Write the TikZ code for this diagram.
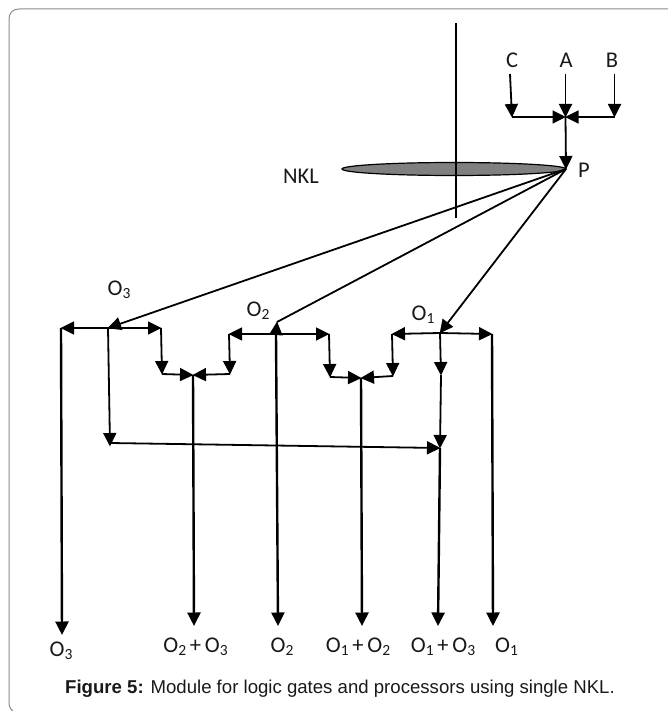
\documentclass[tikz,border=0pt]{standalone}
\usepackage{fontspec}
\setmainfont{Carlito}
\newfontfamily\capfont{Liberation Sans}
\usetikzlibrary{arrows.meta,shapes.geometric}
\newcommand{\lowsub}[1]{\raisebox{-0.3ex}{\fontsize{15.5}{15.5}\selectfont #1}}
\tikzset{
  x=1pt,y=-1pt,
  lab/.style={inner sep=0pt,font=\fontsize{22.5}{22.5}\selectfont,text=black!90},
  arr/.style={line width=1.8pt,draw=black,-{Triangle[length=13.5pt,width=13pt]},shorten >=-0.5pt},
  thickarr/.style={line width=2.4pt,draw=black,-{Triangle[length=13.5pt,width=13pt]}},
  plainline/.style={line width=1.8pt,draw=black},
}
\begin{document}
\begin{tikzpicture}
\useasboundingbox (0,0) rectangle (668,711);
% frame
\draw[line width=1pt,draw=black!45] (668,9) -- (19,9) .. controls (13,9) and (9,13) .. (9,19) -- (9,702) .. controls (9,706) and (10,709) .. (13,711);
% junctions
\coordinate (cTop) at (510,74);
\coordinate (aTop) at (565.5,74);
\coordinate (bTop) at (614.5,74);
\coordinate (cJ) at (512,117);
\coordinate (hub) at (565.5,117);
\coordinate (bJ) at (614.5,117);
\coordinate (P) at (566,169);
\coordinate (lineTop) at (456,23);
\coordinate (lineBot) at (456,218);
\coordinate (o3) at (108,328);
\coordinate (o3L) at (61,328);
\coordinate (o3R) at (161,328);
\coordinate (o3D) at (162,374);
\coordinate (g23) at (193,375);
\coordinate (o2LD) at (230,374);
\coordinate (o2L) at (229,334);
\coordinate (o2) at (276,334);
\coordinate (o2Tip) at (277,322);
\coordinate (o2R) at (329,334);
\coordinate (o2D) at (330,377);
\coordinate (g12) at (361,378);
\coordinate (o1LD) at (393,376);
\coordinate (o1L) at (392,334);
\coordinate (o1) at (440,333);
\coordinate (o1R) at (492,334);
\coordinate (o1D) at (441,375);
\coordinate (g13) at (440,448);
\coordinate (o3B) at (110,443);
\coordinate (o3Btip) at (110,446);
% ends
\coordinate (e3) at (62,635);
\coordinate (e23) at (194,626);
\coordinate (e2) at (278,626);
\coordinate (e12) at (362,626);
\coordinate (e13) at (438,626);
\coordinate (e1) at (493,626);
% ellipse and vertical line
\node[draw=black,line width=1.2pt,fill=black!50,ellipse,minimum width=224pt,minimum height=13pt,inner sep=0pt] (nkl) at (454,169) {};
\draw[line width=1.2pt] (lineTop) -- (lineBot);
% top inputs
\draw[arr] (cTop) -- (cJ);
\draw[arr] (aTop) -- (hub);
\draw[arr] (bTop) -- (bJ);
\draw[arr] (cJ) -- (hub);
\draw[arr] (bJ) -- (hub);
\draw[arr] (hub) -- (P);
% beams
\draw[arr] (P) -- (o3);
\draw[plainline] (P) -- (o2Tip);
\draw[arr] (o2) -- (o2Tip);
\draw[arr] (P) -- (o1);
% O3 group
\draw[arr] (o3) -- (o3L);
\draw[arr] (o3) -- (o3R);
\draw[arr] (o3R) -- (o3D);
\draw[arr] (o3D) -- (g23);
\draw[arr] (o3) -- (o3Btip);
\draw[arr] (o3B) -- (g13);
\draw[thickarr] (o3L) -- (e3);
% O2 group
\draw[arr] (o2) -- (o2L);
\draw[arr] (o2L) -- (o2LD);
\draw[arr] (o2LD) -- (g23);
\draw[arr] (o2) -- (o2R);
\draw[arr] (o2R) -- (o2D);
\draw[arr] (o2D) -- (g12);
\draw[thickarr] (g23) -- (e23);
\draw[thickarr] (o2) -- (e2);
% O1 group
\draw[arr] (o1) -- (o1L);
\draw[arr] (o1L) -- (o1LD);
\draw[arr] (o1LD) -- (g12);
\draw[arr] (o1) -- (o1R);
\draw[arr] (o1) -- (o1D);
\draw[arr] (o1D) -- (g13);
\draw[thickarr] (g12) -- (e12);
\draw[thickarr] (g13) -- (e13);
\draw[thickarr] (o1R) -- (e1);
% labels
\node[lab] (lC) at (512,60) {C};
\node[lab] (lA) at (566,60) {A};
\node[lab] (lB) at (612,60) {B};
\node[lab] (lP) at (584,170) {P};
\node[lab] (lNKL) at (301,176) {NKL};
\node[lab] (lO3) at (119,290) {O\lowsub{3}};
\node[lab] (lO2) at (258,311) {O\lowsub{2}};
\node[lab] (lO1) at (423,315) {O\lowsub{1}};
\node[lab] (bO3) at (61,651) {O\lowsub{3}};
\node[lab] (bO23) at (195.5,647) {O\lowsub{2}\,+\,O\lowsub{3}};
\node[lab] (bO2) at (282,647) {O\lowsub{2}};
\node[lab] (bO12) at (358,647) {O\lowsub{1}\,+\,O\lowsub{2}};
\node[lab] (bO13) at (443,647) {O\lowsub{1}\,+\,O\lowsub{3}};
\node[lab] (bO1) at (506.5,647) {O\lowsub{1}};
\node[inner sep=0pt,font=\capfont\fontsize{18.6}{18.6}\selectfont,text=black!90] (cap) at (340,689) {\textbf{Figure 5:} Module for logic gates and processors using single NKL.};
\end{tikzpicture}
\end{document}
